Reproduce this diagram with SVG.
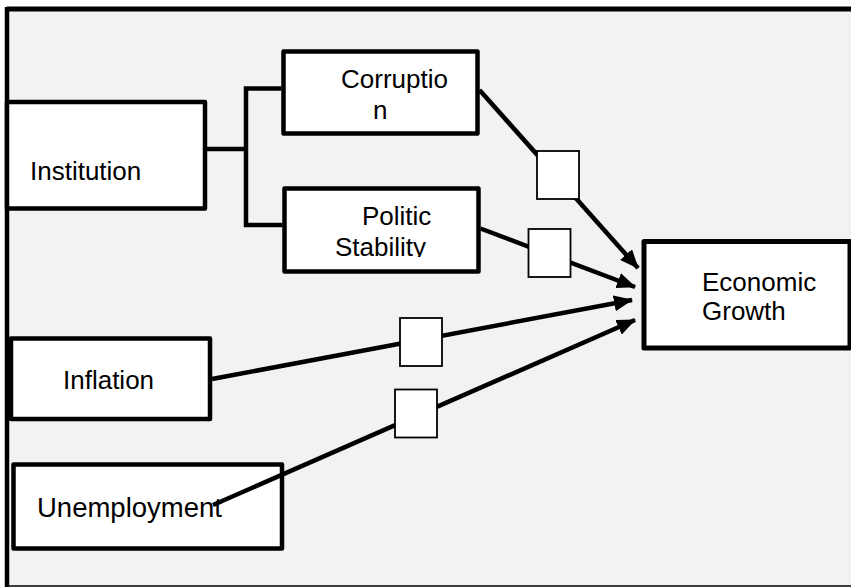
<svg xmlns="http://www.w3.org/2000/svg" width="851" height="587" viewBox="0 0 851 587">
<style>
.box{fill:#fff;stroke:#000;stroke-width:4.5;stroke-linejoin:round}
.mod{fill:#fff;stroke:#000;stroke-width:1.8}
.lbl{font-family:"Liberation Sans",Arial,sans-serif;font-size:26px;fill:#000}
.con{fill:none;stroke:#000;stroke-width:4.5}
.arr{fill:none;stroke:#000;stroke-width:4.5;marker-end:url(#ah)}
</style>
<defs>
<marker id="ah" markerUnits="userSpaceOnUse" markerWidth="20" markerHeight="16" refX="18" refY="8" orient="auto">
<path d="M0,0 L19,8 L0,16 z" fill="#000"/>
</marker>
<clipPath id="clipStab"><rect x="286" y="190" width="190" height="67"/></clipPath>
</defs>
<g id="frame">
<rect x="7" y="9" width="850" height="577" fill="#f2f2f2" stroke="#000" stroke-width="1.5"/>
<line x1="7" y1="9" x2="851" y2="9" stroke="#000" stroke-width="5"/>
<line x1="7" y1="7" x2="7" y2="587" stroke="#000" stroke-width="4.5"/>
</g>
<g id="institution">
<rect class="box" x="7" y="102" width="198" height="106.5"/>
<text class="lbl" x="30" y="180">Institution</text>
</g>
<g id="corruption">
<rect class="box" x="283.5" y="51.5" width="194" height="82"/>
<text class="lbl" x="341" y="88">Corruptio</text>
<text class="lbl" x="373" y="119">n</text>
</g>
<g id="politic-stability">
<rect class="box" x="284.5" y="188.5" width="194" height="83"/>
<text class="lbl" x="362" y="225">Politic</text>
<text class="lbl" x="335" y="256" clip-path="url(#clipStab)">Stability</text>
</g>
<g id="inflation">
<rect class="box" x="11" y="338.5" width="199" height="80.5"/>
<text class="lbl" x="63" y="389">Inflation</text>
</g>
<g id="unemployment">
<rect class="box" x="13.5" y="464.5" width="268.5" height="84"/>
<text class="lbl" x="37" y="516.5" style="font-size:27.5px">Unemployment</text>
</g>
<g id="economic-growth">
<rect class="box" x="644" y="241.5" width="206" height="106.5" style="stroke-width:5"/>
<text class="lbl" x="702" y="291">Economic</text>
<text class="lbl" x="702" y="320">Growth</text>
</g>
<g id="connectors">
<polyline class="con" points="207,149 246,149"/>
<polyline class="con" points="281.5,88.5 246,88.5 246,225 282.5,225"/>
<line class="arr" x1="479.5" y1="90" x2="638" y2="268"/>
<line class="arr" x1="480.5" y1="228.5" x2="635" y2="287"/>
<line class="arr" x1="212" y1="379" x2="632" y2="300"/>
<line class="arr" x1="213" y1="505" x2="635" y2="320"/>
</g>
<g id="modifiers">
<rect class="mod" x="537" y="151" width="42" height="48"/>
<rect class="mod" x="528.5" y="229" width="42" height="48"/>
<rect class="mod" x="400" y="318" width="42" height="48"/>
<rect class="mod" x="395" y="389.5" width="42" height="48"/>
</g>
</svg>
